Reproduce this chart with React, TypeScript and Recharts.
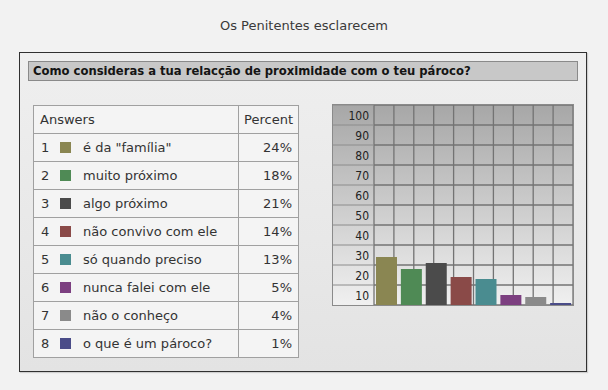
import { BarChart, Bar, XAxis, YAxis, CartesianGrid, Cell } from "recharts";

const answers = [
  'é da "família"',
  "muito próximo",
  "algo próximo",
  "não convivo com ele",
  "só quando preciso",
  "nunca falei com ele",
  "não o conheço",
  "o que é um pároco?",
];
const percents = [24, 18, 21, 14, 13, 5, 4, 1];
const colors = ["#8a8652", "#4f8a55", "#4b4b4b", "#8a4a48", "#4a8c90", "#7c3f80", "#8a8a8a", "#4a4c88"];
const yTicks = [0, 10, 20, 30, 40, 50, 60, 70, 80, 90, 100];

const data = answers.map((name, i) => ({ name, pct: percents[i] }));

const FONT = "'DejaVu Sans', Verdana, sans-serif";

function YTick(props: any) {
  const { x, y, payload } = props;
  if (payload.value === 0) return null;
  return (
    <g>
      <line x1={0} x2={x + 5} y1={y} y2={y} stroke="#8c8c8c" strokeWidth={1} />
      <text x={x} y={y + 10} dy={4.5} textAnchor="end" fontSize={12} fill="#222" fontFamily="'DejaVu Sans Condensed', sans-serif">
        {payload.value}
      </text>
    </g>
  );
}

const cell: React.CSSProperties = {
  borderTop: "1px solid #a0a0a0",
  height: 27,
  padding: 0,
  verticalAlign: "middle",
};

export default function App() {
  return (
    <div style={{ position: "absolute", left: 0, top: 0, width: 608, height: 390, background: "#f2f2f2", fontFamily: FONT, overflow: "hidden" }}>
      <div style={{ position: "absolute", top: 18, left: 0, width: 608, textAlign: "center", fontSize: 13, color: "#3a3a3a" }}>
        Os Penitentes esclarecem
      </div>

      <div style={{ position: "absolute", left: 19, top: 52, width: 566, height: 318, border: "1px solid #303030", background: "linear-gradient(#efefef, #e3e3e3)", boxShadow: "1px 1px 1px #cfcfcf" }} />

      <div style={{ position: "absolute", left: 28, top: 61, width: 544, height: 18, border: "1px solid #8a8a8a", background: "#c8c8c8", fontWeight: "bold", fontSize: 11.6, color: "#141414", lineHeight: "18px", paddingLeft: 4, boxSizing: "content-box" }}>
        Como consideras a tua relacção de proximidade com o teu pároco?
      </div>

      <table style={{ position: "absolute", left: 33, top: 105, width: 266, borderCollapse: "collapse", border: "1px solid #a0a0a0", background: "#f4f4f4", fontSize: 13, color: "#333", fontFamily: FONT }}>
        <tbody>
          <tr>
            <td style={{ ...cell, width: 198, borderRight: "1px solid #a0a0a0", paddingLeft: 6 }}>Answers</td>
            <td style={{ ...cell, textAlign: "right", paddingRight: 5 }}>Percent</td>
          </tr>
          {answers.map((a, i) => (
            <tr key={i}>
              <td style={{ ...cell, borderRight: "1px solid #a0a0a0" }}>
                <span style={{ display: "inline-block", width: 20, paddingLeft: 7 }}>{i + 1}</span>
                <span style={{ display: "inline-block", width: 11, height: 11, background: colors[i], verticalAlign: "-1px", marginLeft: -1 }} />
                <span style={{ paddingLeft: 12 }}>{a}</span>
              </td>
              <td style={{ ...cell, textAlign: "right", paddingRight: 6 }}>{percents[i]}%</td>
            </tr>
          ))}
        </tbody>
      </table>

      <div style={{ position: "absolute", left: 332, top: 104, width: 240, height: 200, border: "1px solid #8a8a8a", background: "linear-gradient(#a7a7a7, #f0f0f0)" }}>
        <BarChart width={240} height={200} data={data} margin={{ top: 0, right: 0, bottom: 0, left: 0 }} barSize={21}>
          <CartesianGrid
            stroke="#737373"
            strokeWidth={1.3}
            verticalCoordinatesGenerator={({ offset }: any) =>
              yTicks.map((_, i) => offset.left + (i * offset.width) / 10)
            }
          />
          <XAxis dataKey="name" hide />
          <YAxis
            width={41}
            domain={[0, 100]}
            ticks={yTicks}
            interval={0}
            axisLine={false}
            tickLine={false}
            tickSize={0}
            tickMargin={5}
            tick={<YTick />}
          />
          <Bar dataKey="pct" isAnimationActive={false}>
            {data.map((_, i) => (
              <Cell key={i} fill={colors[i]} />
            ))}
          </Bar>
        </BarChart>
      </div>
    </div>
  );
}
